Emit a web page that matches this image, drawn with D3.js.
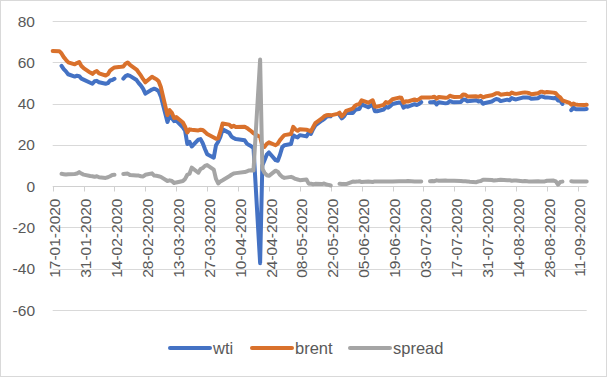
<!DOCTYPE html>
<html>
<head>
<meta charset="utf-8">
<script src="https://cdn.jsdelivr.net/npm/d3@7"></script>
<style>
  body { margin: 0; background: #fff; }
  text { font-family: "Liberation Sans", Arial, sans-serif; fill: #595959; }
</style>
</head>
<body>
<div id="chart"></div>
<script>
// trading days from 17-01-2020 to 15-09-2020 (weekdays), 10-04 has no row
var firstDay = "17-01-2020",
    lastDay = "15-09-2020",
    closedDays = ["10-04-2020"];

var tickLabels = ["17-01-2020","31-01-2020","14-02-2020","28-02-2020","13-03-2020","27-03-2020",
  "10-04-2020","24-04-2020","08-05-2020","22-05-2020","05-06-2020","19-06-2020","03-07-2020",
  "17-07-2020","31-07-2020","14-08-2020","28-08-2020","11-09-2020"];

var yTicks = [-60, -40, -20, 0, 20, 40, 60, 80];

var seriesNames = ["wti", "brent", "spread"];

var wti = [
  null,                             // 17-01
  null, 58.3, 56.7, 55.6, 54.2,     // 20-01
  53.1, 53.5, 53.3, 52.1, 51.6,     // 27-01
  50.1, 49.6, 50.8, 51.0, 50.3,     // 03-02
  49.6, 49.9, 51.2, 51.4, 52.0,     // 10-02
  null, 52.1, 53.3, 53.8, 53.4,     // 17-02
  51.4, 49.9, 48.7, 47.1, 44.8,     // 24-02
  46.8, 47.2, 46.8, 46.0, 43.5,     // 02-03
  31.1, 34.0, 33.0, 31.5, 31.7,     // 09-03
  28.5, 26.9, 20.4, 21.5, 19.2,     // 16-03
  22.5, 22.8, 20.8, 18.0, 15.5,     // 23-03
  13.8, 19.8, 21.5, 24.0, 27.5,     // 30-03
  25.8, 24.0, 23.3, 22.8,           // 06-04
  22.2, 20.6, 19.9, 19.3, 18.5,     // 13-04
  -37.3, 10.0, 12.6, 15.2, 16.3,    // 20-04
  12.6, 12.3, 15.2, 18.8, 19.8,     // 27-04
  20.4, 24.6, 24.0, 23.6, 24.7,     // 04-05
  24.1, 25.8, 25.3, 27.6, 29.4,     // 11-05
  31.8, 32.5, 33.5, 33.9, 33.8,     // 18-05
  null, 34.4, 32.8, 33.7, 35.5,     // 25-05
  35.4, 36.8, 37.3, 37.4, 39.6,     // 01-06
  38.2, 38.9, 39.6, 36.3, 36.3,     // 08-06
  37.1, 38.4, 38.0, 38.8, 39.8,     // 15-06
  40.5, 40.4, 38.0, 38.7, 38.5,     // 22-06
  39.7, 39.3, 39.8, 40.7, null,     // 29-06
  40.6, 40.6, 40.9, 39.6, 40.6,     // 06-07
  40.1, 40.3, 41.2, 40.8, 40.6,     // 13-07
  40.8, 42.0, 41.9, 41.1, 41.3,     // 20-07
  41.6, 41.0, 41.3, 39.9, 40.3,     // 27-07
  41.0, 41.7, 42.2, 42.0, 41.2,     // 03-08
  41.9, 41.6, 42.7, 42.2, 42.0,     // 10-08
  42.9, 42.9, 42.9, 42.8, 42.3,     // 17-08
  42.6, 43.4, 43.4, 43.0, 43.0,     // 24-08
  42.6, 42.8, 41.5, 41.4, 39.8,     // 31-08
  null, 36.8, 38.0, 37.3, 37.3,     // 07-09
  37.3, 37.4                        // 14-09
];

var brent = [
  65.5,
  65.4, 64.3, 62.5, 61.2, 60.0,
  59.0, 59.6, 60.1, 58.2, 57.2,
  55.0, 54.4, 55.3, 55.8, 54.6,
  53.6, 54.2, 56.0, 56.8, 57.5,
  57.8, 58.0, 59.3, 59.9, 58.8,
  56.5, 55.0, 53.5, 51.8, 50.3,
  53.0, 52.3, 51.8, 50.8, 48.0,
  34.4, 36.8, 35.5, 33.0, 33.5,
  30.8, 28.8, 26.0, 27.5, 27.3,
  27.0, 27.3, 27.2, 26.3, 25.3,
  23.6, 23.0, 23.2, 26.5, 30.3,
  29.8, 28.7, 29.3, 28.6,
  28.8, 28.2, 27.4, 26.6, 25.6,
  23.8, 19.5, 19.0, 20.5, 21.2,
  19.8, 20.6, 22.3, 23.6, 24.7,
  25.3, 28.7, 27.5, 26.8, 27.6,
  27.3, 27.0, 26.5, 28.5, 30.5,
  32.8, 33.8, 34.3, 34.5, 34.3,
  35.0, 35.6, 33.8, 34.8, 36.5,
  37.6, 38.9, 39.5, 39.8, 41.6,
  40.4, 41.0, 41.6, 38.6, 38.5,
  39.4, 40.7, 40.3, 41.1, 42.1,
  42.9, 42.8, 40.4, 41.1, 41.0,
  42.0, 41.6, 42.1, 42.9, 42.9,
  43.0, 43.1, 43.3, 42.4, 43.2,
  42.8, 42.9, 43.8, 43.4, 43.2,
  43.3, 44.4, 44.3, 43.4, 43.4,
  43.5, 43.3, 43.8, 43.0, 43.4,
  44.0, 44.4, 45.0, 45.0, 44.3,
  44.8, 44.5, 45.3, 44.9, 44.7,
  45.3, 45.4, 45.3, 45.0, 44.5,
  45.0, 45.7, 45.7, 45.3, 45.6,
  45.3, 45.0, 43.8, 43.0, 41.5,
  40.5, 39.5, 40.0, 39.5, 39.4,
  39.3, 39.4
];

var spread = [
  null,
  null, 6.0, 5.8, 5.6, 5.8,
  5.9, 6.1, 6.8, 6.1, 5.6,
  4.9, 4.8, 4.5, 4.8, 4.3,
  4.0, 4.3, 4.8, 5.4, 5.5,
  null, 5.9, 6.0, 6.1, 5.4,
  5.1, 5.1, 4.8, 4.7, 5.5,
  6.2, 5.1, 5.0, 4.8, 4.5,
  2.5, 2.8, 2.5, 1.5, 1.8,
  2.5, 3.5, 5.5, 6.0, 9.0,
  6.5, 8.3, 8.8, 9.8, 10.2,
  8.0, 3.5, 1.3, 2.3, 2.9,
  4.8, 5.5, 6.1, 6.3,
  6.8, 7.2, 7.6, 7.7, 7.6,
  61.3, 8.5, 6.5, 5.3, 5.0,
  7.5, 7.0, 5.5, 4.5, 4.0,
  4.5, 4.1, 3.5, 3.2, 2.9,
  3.2, 1.2, 1.2, 0.9, 1.1,
  1.0, 1.3, 0.8, 0.6, 0.3,
  null, 1.2, 1.0, 1.1, 1.0,
  2.2, 2.1, 2.2, 2.4, 2.0,
  2.2, 2.1, 2.0, 2.3, 2.2,
  2.3, 2.3, 2.3, 2.3, 2.3,
  2.4, 2.4, 2.4, 2.4, 2.5,
  2.3, 2.3, 2.3, 2.2, null,
  2.4, 2.5, 2.4, 2.8, 2.6,
  2.7, 2.6, 2.6, 2.6, 2.6,
  2.5, 2.4, 2.4, 2.3, 2.1,
  1.9, 2.3, 2.5, 3.1, 3.1,
  3.0, 2.7, 2.8, 3.0, 3.1,
  2.9, 2.9, 2.6, 2.7, 2.7,
  2.4, 2.5, 2.4, 2.2, 2.2,
  2.4, 2.3, 2.3, 2.3, 2.6,
  2.7, 2.3, 0.7, 2.0, 2.2,
  null, 2.4, 2.3, 2.3, 2.3,
  2.2, 2.2
];

(function(){

  var parse = d3.timeParse("%d-%m-%Y"),
      fmt = d3.timeFormat("%d-%m-%Y");

  var start = parse(firstDay),
      end = parse(lastDay);

  var days = d3.timeDay.range(start, d3.timeDay.offset(end, 1))
    .filter(function(d){ return d.getDay() % 6 !== 0 && closedDays.indexOf(fmt(d)) < 0; });

  var width = 609,
      height = 378;

  var colors = {wti: "#4472C4", brent: "#D9712C", spread: "#A5A5A5"};
  var values = {wti: wti, brent: brent, spread: spread};

  var svg = d3.select("#chart").append("svg")
    .attr("width", width)
    .attr("height", height);

  svg.append("rect")
    .attr("x", 0.5).attr("y", 0.5)
    .attr("width", 606).attr("height", 376)
    .attr("fill", "#fff")
    .attr("stroke", "#d9d9d9");

  var x = d3.scaleTime()
    .domain([start, end])
    .range([52.7, 586.7]);

  var y = d3.scaleLinear()
    .domain([-60, 80])
    .range([310, 21]);

  // gridlines
  svg.append("g")
    .selectAll("line")
    .data(yTicks.filter(function(d){ return d !== 0; }))
    .enter().append("line")
    .attr("x1", x.range()[0]).attr("x2", x.range()[1])
    .attr("y1", function(d){ return Math.round(y(d)) + 0.5; })
    .attr("y2", function(d){ return Math.round(y(d)) + 0.5; })
    .attr("stroke", "#d9d9d9")
    .attr("stroke-width", 1);

  svg.append("g")
    .selectAll("text")
    .data(yTicks)
    .enter().append("text")
    .attr("x", 35)
    .attr("y", function(d){ return y(d); })
    .attr("dy", "0.36em")
    .attr("text-anchor", "end")
    .attr("font-size", 15.5)
    .text(function(d){ return d; });

  // horizontal axis at zero
  var y0 = Math.round(y(0)) + 0.5;
  var xAxis = svg.append("g");

  xAxis.append("line")
    .attr("x1", x.range()[0]).attr("x2", x.range()[1])
    .attr("y1", y0).attr("y2", y0)
    .attr("stroke", "#d0d0d0");

  var tickDates = tickLabels.map(function(d){ return parse(d); });

  xAxis.selectAll(".tick")
    .data(tickDates)
    .enter().append("line")
    .attr("class", "tick")
    .attr("x1", function(d){ return Math.round(x(d)) + 0.5; })
    .attr("x2", function(d){ return Math.round(x(d)) + 0.5; })
    .attr("y1", y0).attr("y2", y0 + 5)
    .attr("stroke", "#d0d0d0");

  xAxis.selectAll(".lbl")
    .data(tickDates)
    .enter().append("text")
    .attr("class", "lbl")
    .attr("transform", function(d){ return "translate(" + (x(d) + 2) + "," + (y0 + 12) + ") rotate(-90)"; })
    .attr("dy", "0.36em")
    .attr("text-anchor", "end")
    .attr("font-size", 15.5)
    .text(function(d, i){ return tickLabels[i]; });

  // series
  var line = d3.line()
    .defined(function(d){ return d.v !== null && d.v !== undefined; })
    .x(function(d){ return x(d.date); })
    .y(function(d){ return y(d.v); });

  seriesNames.forEach(function(name){
    var pts = days.map(function(d, i){ return {date: d, v: values[name][i]}; });
    svg.append("path")
      .datum(pts)
      .attr("d", line)
      .attr("fill", "none")
      .attr("stroke", colors[name])
      .attr("stroke-width", 4)
      .attr("stroke-linejoin", "round")
      .attr("stroke-linecap", "round");
  });

  // legend
  var legendX = [170, 252, 350];
  var legend = svg.append("g")
    .selectAll("g")
    .data(seriesNames)
    .enter().append("g")
    .attr("transform", function(d, i){ return "translate(" + legendX[i] + ",348)"; });

  legend.append("line")
    .attr("x1", 0).attr("x2", 40)
    .attr("stroke", function(d){ return colors[d]; })
    .attr("stroke-width", 4)
    .attr("stroke-linecap", "round");

  legend.append("text")
    .attr("x", 43)
    .attr("dy", "0.36em")
    .attr("font-size", 16.5)
    .text(function(d){ return d; });

})();
</script>
</body>
</html>
